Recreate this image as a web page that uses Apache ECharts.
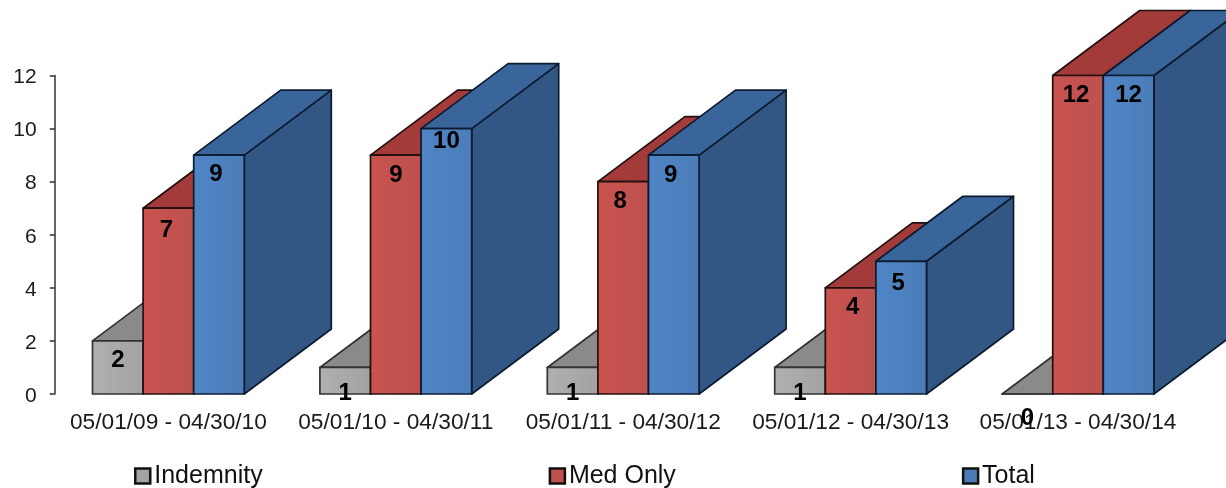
<!DOCTYPE html>
<html><head><meta charset="utf-8">
<style>html,body{margin:0;padding:0;background:#fff}#c{width:1226px;height:488px}</style>
<script src="https://cdn.jsdelivr.net/npm/echarts@6/dist/echarts.min.js"></script>
</head><body><div id="c"></div>
<script>
const categories = ['05/01/09 - 04/30/10','05/01/10 - 04/30/11','05/01/11 - 04/30/12','05/01/12 - 04/30/13','05/01/13 - 04/30/14'];
const indemnity = [2,1,1,1,0];
const medOnly = [7,9,8,4,12];
const total = [9,10,9,5,12];
const yTicks = [0,2,4,6,8,10,12];

// Per-label fine placement, separate from data: [dx, dy] from the default spot.
const nudgeIndemnity = [[0,0],[0,7],[0,7],[0,7],[0,5]];
const nudgeMed = [[-2,3],[0,1],[-3,1],[2,1],[-2,1]];
const nudgeTotal = [[-3,0],[0,-6],[-3,1],[-3,3],[0,1]];

const styles = [
  {name:'Indemnity', values:indemnity, nudge:nudgeIndemnity, slot:-1, front:['#b0b0b0','#a2a2a2'], top:'#8a8a8a', side:'#7a7a7a', edge:'#333333'},
  {name:'Med Only',  values:medOnly,   nudge:nudgeMed,       slot:0,  front:['#c9534f','#bd514e'], top:'#a23b39', side:'#8c3432', edge:'#221010'},
  {name:'Total',     values:total,     nudge:nudgeTotal,     slot:1,  front:['#4f86c6','#4b7cb8'], top:'#3a659b', side:'#335784', edge:'#0c1c30'}
];
const BAR_RATIO = 0.2225, DX = 87, DY = -65, LABEL_DOWN = 19;

function renderer(st){
  return function(params, api){
    const i = api.value(0), v = api.value(1);
    const band = api.size([1,0])[0];
    const w = band*BAR_RATIO;
    const top = api.coord([i,v]), base = api.coord([i,0]);
    const x0 = top[0] + st.slot*w - w/2, x1 = x0 + w, yT = top[1], yB = base[1];
    const line = {stroke:st.edge, lineWidth:1.7, lineJoin:'round'};
    const poly = (pts, fill)=>({type:'polygon', shape:{points:pts}, style:Object.assign({fill}, line)});
    const n = st.nudge[params.dataIndex];
    const kids = [
      poly([[x1,yT],[x1+DX,yT+DY],[x1+DX,yB+DY],[x1,yB]], st.side),
      poly([[x0,yT],[x0+DX,yT+DY],[x1+DX,yT+DY],[x1,yT]], st.top),
      {type:'rect', shape:{x:x0,y:yT,width:w,height:yB-yT},
       style:Object.assign({fill:{type:'linear',x:0,y:0,x2:1,y2:0,colorStops:[{offset:0,color:st.front[0]},{offset:1,color:st.front[1]}]}}, line)},
      {type:'text', z2:10, style:{x:(x0+x1)/2+n[0], y:yT+LABEL_DOWN+n[1], text:String(v), fill:'#000',
        font:'bold 24px "Liberation Sans"', align:'center', verticalAlign:'middle'}}
    ];
    return {type:'group', children:kids};
  };
}

const chart = echarts.init(document.getElementById('c'), null, {renderer:'canvas'});
chart.setOption({
  animation:false,
  backgroundColor:'#fff',
  textStyle:{fontFamily:'"Liberation Sans"'},
  grid:{left:54.7, top:75.5, width:1137, height:318.5, containLabel:false},
  xAxis:{type:'category', data:categories, axisLine:{show:false}, axisTick:{show:false},
    axisLabel:{color:'#1a1a1a', fontSize:22.7, margin:17, interval:0}, splitLine:{show:false}},
  yAxis:{type:'value', min:0, max:12, interval:2, axisLine:{show:true, lineStyle:{color:'#333', width:1.5}},
    axisTick:{show:true, length:5, lineStyle:{color:'#333', width:1.5}},
    axisLabel:{color:'#1a1a1a', fontSize:21, margin:18, verticalAlign:'top', lineHeight:4, customValues:yTicks}, splitLine:{show:false}},
  legend:{show:true, left:134, top:463.5, padding:0, itemWidth:15, itemHeight:15, itemGap:286,
    icon:'rect', textStyle:{fontSize:25, color:'#111', padding:[0,0,0,-1]},
    itemStyle:{borderColor:'#111', borderWidth:2.5},
    data:styles.map(s=>s.name)},
  series:styles.map(st=>({
    type:'custom', name:st.name, coordinateSystem:'cartesian2d', clip:false,
    itemStyle:{color:st.front[1]}, renderItem:renderer(st),
    encode:{x:0,y:1}, data:st.values.map((v,i)=>[i,v])
  }))
});
</script></body></html>
